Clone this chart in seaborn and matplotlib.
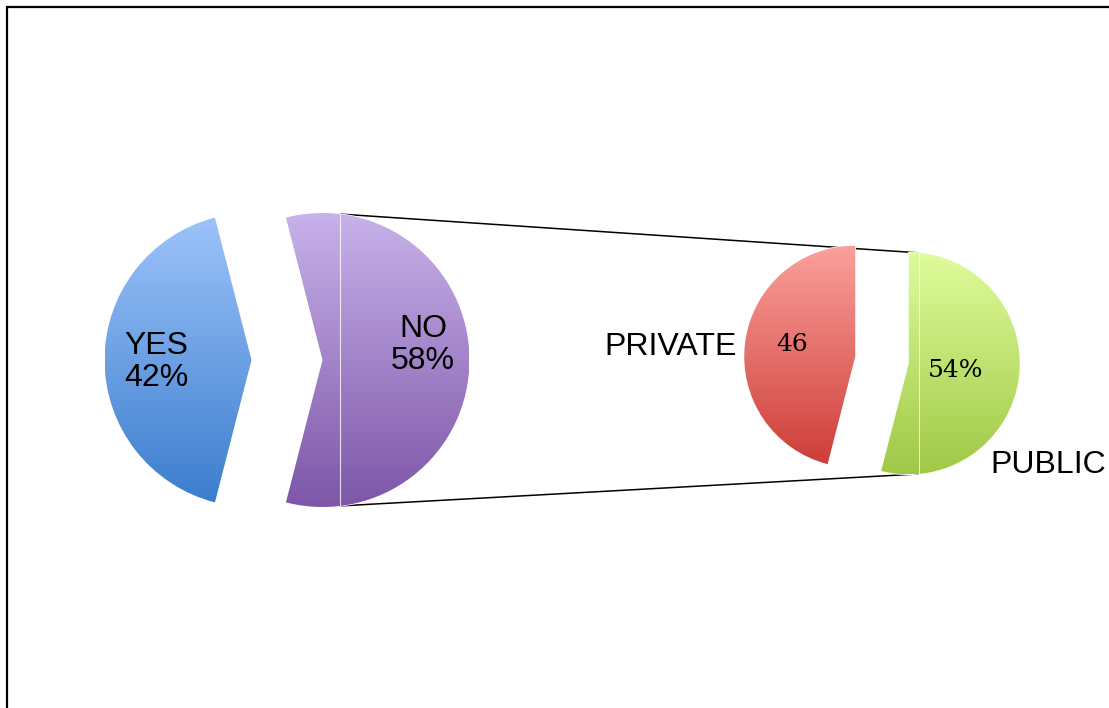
import numpy as np
import matplotlib
matplotlib.use("Agg")
import matplotlib.pyplot as plt
from matplotlib.patches import Rectangle
import seaborn as sns

# first pie: did they answer yes / no
answer_labels = ["YES", "NO"]
answer_pct = [42, 58]
# second pie: breakdown of the NO slice
school_labels = ["PRIVATE", "PUBLIC"]
school_pct = [46, 54]

# gradient colours (bottom, top) for every slice
answer_colors = [("#3a7ccd", "#9ec4fa"), ("#7d56a8", "#c8b2ea")]
school_colors = [("#cd3c37", "#faa09b"), ("#a0c846", "#defc9b")]

sns.set_style("white")
plt.rcParams["font.family"] = ["Liberation Sans", "DejaVu Sans"]
plt.rcParams["text.color"] = "black"

W, H = 1109, 708
fig = plt.figure(figsize=(W / 100, H / 100), dpi=100)
ax = fig.add_axes([0, 0, 1, 1])

#main pie, YES slice centred on the left
w1, _ = ax.pie(answer_pct, center=(287, 348), radius=147,
               startangle=180 - 1.8 * answer_pct[0], counterclock=True,
               explode=[35.5, 35.5])
#second pie
w2, _ = ax.pie(school_pct, center=(882, 348), radius=111,
               startangle=90, counterclock=True, explode=[27, 27])

ax.set_xlim(0, W)
ax.set_ylim(0, H)
ax.set_aspect("equal")
ax.axis("off")


def fill_gradient(wedge, bottom, top):
    cx, cy = wedge.center
    r = wedge.r
    cmap = sns.blend_palette([bottom, top], as_cmap=True)
    grad = np.linspace(0, 1, 256).reshape(-1, 1)
    im = ax.imshow(grad, cmap=cmap, origin="lower", aspect="auto",
                   extent=(cx - r, cx + r, cy - r, cy + r), zorder=1,
                   interpolation="bilinear")
    im.set_clip_path(wedge)
    wedge.set_facecolor("none")


for w, (b, t) in zip(w1, answer_colors):
    fill_gradient(w, b, t)
for w, (b, t) in zip(w2, school_colors):
    fill_gradient(w, b, t)

# thin light seam inside NO and PUBLIC
for w, dx in [(w1[1], 18), (w2[1], 10)]:
    cx, cy = w.center
    ln, = ax.plot([cx + dx, cx + dx], [cy - w.r, cy + w.r], color="white",
                  lw=0.8, alpha=0.8, zorder=2)
    ln.set_clip_path(w)
ax.set_xlim(0, W)
ax.set_ylim(0, H)


def arc_point(wedge, deg):
    cx, cy = wedge.center
    return (cx + wedge.r * np.cos(np.radians(deg)),
            cy + wedge.r * np.sin(np.radians(deg)))


#connector lines from NO to the second pie
for a1, a2 in [(83, 85), (-83, -85)]:
    p1 = arc_point(w1[1], a1)
    p2 = arc_point(w2[1], a2)
    ax.plot([p1[0], p2[0]], [p1[1], p2[1]], color="black", lw=1.1, zorder=0.5)

# labels
ax.text(124, 346, f"{answer_labels[0]}\n{answer_pct[0]}%", fontsize=23,
        color="black", ha="left", va="center", linespacing=1.1)
ax.text(423, 363, f"{answer_labels[1]}\n{answer_pct[1]}%", fontsize=23,
        color="black", ha="center", va="center", multialignment="center",
        linespacing=1.1)
ax.text(737, 353, school_labels[0], fontsize=23, color="black",
        ha="right", va="baseline")
ax.text(792, 357, f"{school_pct[0]}", fontsize=18, family="DejaVu Serif",
        color="black", ha="center", va="baseline")
ax.text(956, 331, f"{school_pct[1]}%", fontsize=18, family="DejaVu Serif",
        color="black", ha="center", va="baseline")
ax.text(990, 235, school_labels[1], fontsize=23, color="black",
        ha="left", va="baseline")

# outer frame (runs off the right and bottom edges)
ax.add_patch(Rectangle((7, -30), 1200, H - 7 + 30, fill=False,
                       edgecolor="black", lw=1.6, zorder=3))

fig.savefig("out.png", dpi=100)
